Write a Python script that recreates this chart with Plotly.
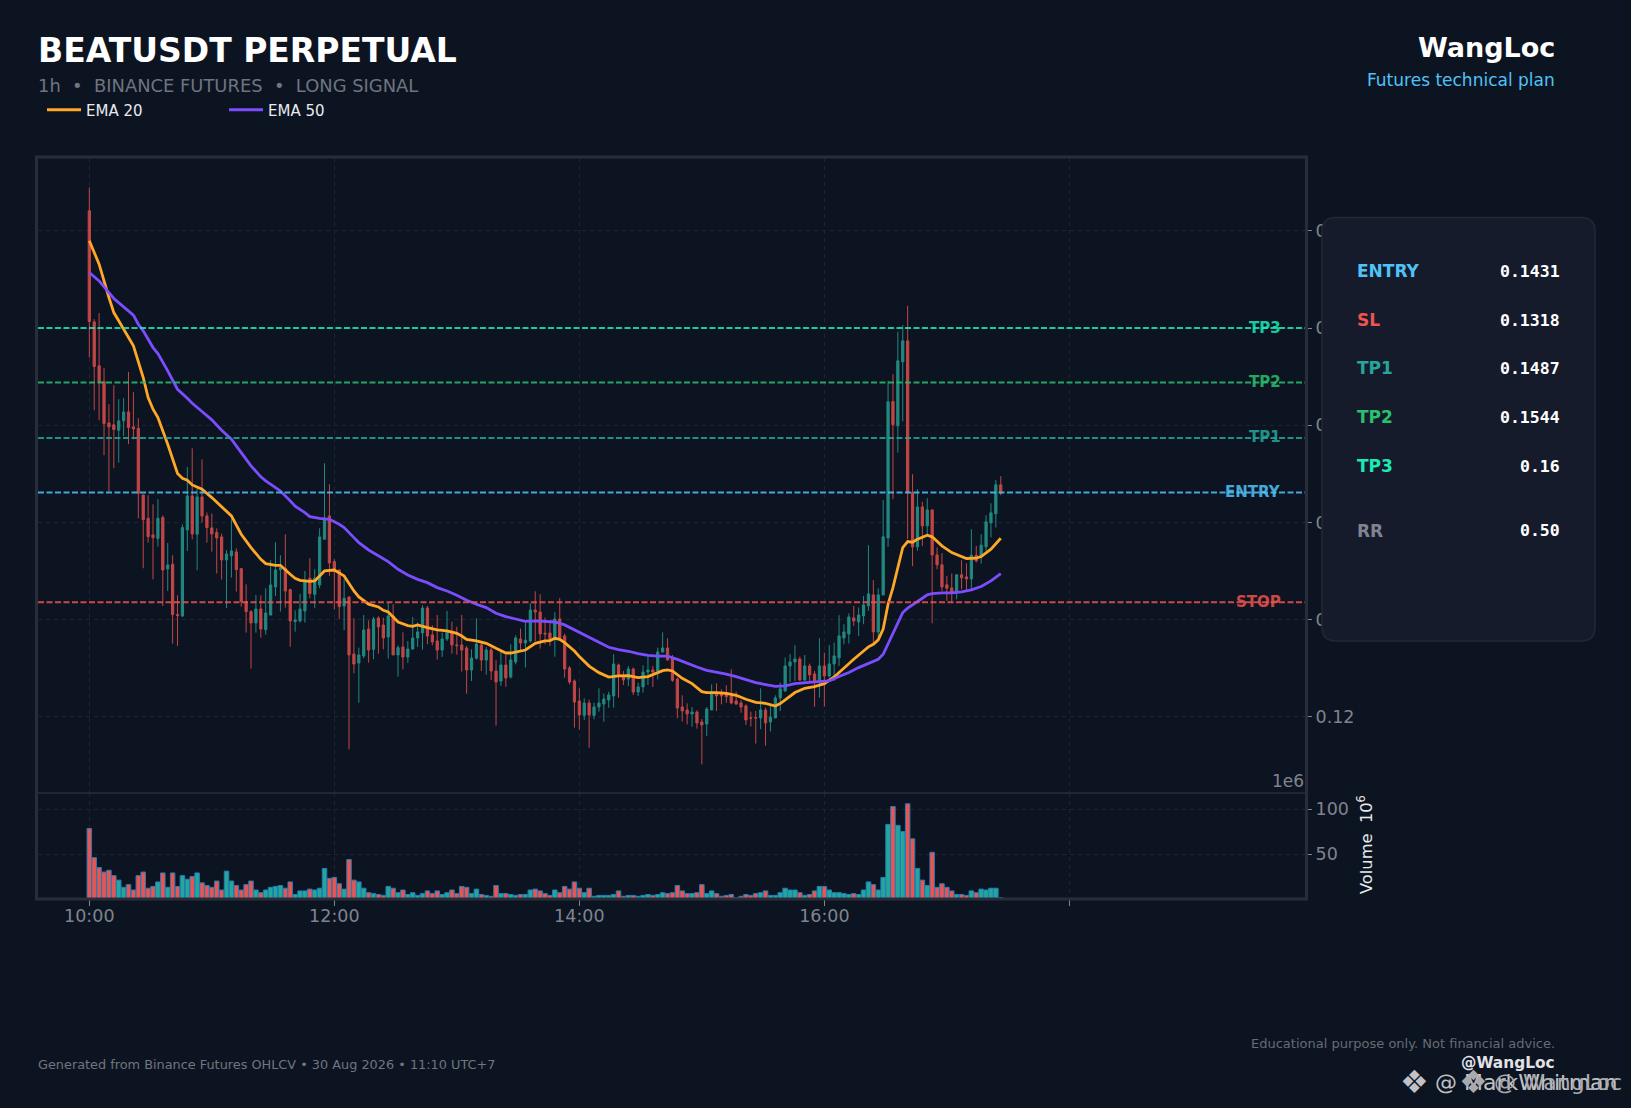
import pandas as pd
import plotly.graph_objects as go

W = 1631
H = 1108

# candle prices, one every 144 s starting at 10:00
opens = [
    .17207, .16064, .15612, .15450, .15025, .15005, .14950, .15046, .15138, .14984,
    .14970, .14284, .14044, .13873, .13835, .14051, .13523, .13571, .13053, .13039,
    .13924, .14274, .13880, .14264, .14068, .13945, .13897, .13852, .13615, .13657,
    .13698, .13526, .13187, .13084, .12967, .13111, .12899, .13049, .13338, .13516,
    .13530, .13310, .12981, .12988, .13091, .13427, .13262, .13358, .13828, .14068,
    .13598, .13512, .13142, .13235, .12648, .12555, .12628, .12905, .12696, .13019,
    .12946, .12823, .13039, .12638, .12720, .12617, .12699, .12813, .12864, .13121,
    .12844, .12782, .12689, .12802, .12875, .12741, .12741, .12709, .12483, .12604,
    .12741, .12586, .12689, .12473, .12370, .12535, .12412, .12566, .12802, .12761,
    .12782, .13100, .13080, .12861, .12864, .12813, .13008, .12833, .12504, .12370,
    .12165, .12017, .12144, .12017, .12103, .12134, .12175, .12216, .12535, .12415,
    .12391, .12494, .12257, .12309, .12463, .12484, .12473, .12669, .12710, .12607,
    .12391, .12103, .12072, .12031, .12051, .11948, .11928, .12072, .12257, .12247,
    .12233, .12216, .12165, .12144, .12114, .11990, .11994, .11990, .12072, .11949,
    .11990, .12196, .12268, .12525, .12566, .12597, .12381, .12525, .12443, .12371,
    .12525, .12422, .12546, .12608, .12813, .12854, .13019, .12978, .13040, .13143,
    .13256, .12875, .13256, .13842, .15245, .14995, .15653, .15869, .14309, .13750,
    .14161, .13966, .14130, .13667, .13565, .13359, .13328, .13287, .13462, .13441,
    .13420, .13664, .13647, .13750, .13997, .14090, .14388,
]
highs = [
    .17447, .16092, .16154, .15588, .15217, .15413, .15269, .15279, .15550, .15341,
    .15073, .14284, .14281, .14188, .14240, .14075, .13790, .13663, .13252, .13982,
    .14572, .14764, .14353, .14651, .14102, .14092, .13941, .13886, .13715, .14034,
    .13735, .13530, .13365, .13097, .13255, .13252, .13324, .13612, .13797, .13664,
    .13879, .13320, .13097, .13266, .13502, .13633, .13519, .13941, .14610, .14394,
    .13622, .13519, .13416, .13235, .13015, .12713, .13049, .12995, .13029, .13036,
    .13022, .13176, .13159, .12737, .12871, .12782, .13029, .12971, .13149, .13142,
    .12943, .13049, .12868, .13091, .12981, .12929, .13049, .12730, .12696, .13015,
    .12765, .12720, .12713, .12583, .12696, .12638, .12748, .12840, .12909, .12971,
    .13169, .13293, .13262, .13022, .12995, .13077, .13224, .12857, .12524, .12387,
    .12295, .12192, .12178, .12147, .12295, .12240, .12260, .12645, .12549, .12473,
    .12524, .12508, .12353, .12532, .12621, .12524, .12713, .12871, .12809, .12638,
    .12405, .12223, .12140, .12103, .12068, .11979, .12103, .12336, .12346, .12284,
    .12326, .12490, .12260, .12171, .12131, .12055, .12062, .12295, .12096, .12124,
    .12223, .12354, .12611, .12645, .12738, .12621, .12638, .12549, .12474, .12810,
    .12662, .12741, .12765, .13047, .12954, .13064, .13143, .13126, .13246, .13767,
    .13407, .13324, .14230, .15458, .15526, .15962, .16031, .16230, .14497, .14343,
    .14213, .14250, .14137, .13743, .13685, .13451, .13475, .13469, .13613, .13582,
    .13932, .13760, .13880, .14076, .14199, .14439, .14477,
]
lows = [
    .15697, .15155, .15053, .14692, .14319, .14559, .14617, .14891, .14806, .14857,
    .14044, .13530, .13794, .13416, .13753, .13142, .13296, .12754, .12730, .13029,
    .13708, .13828, .13509, .14000, .13794, .13701, .13475, .13413, .13121, .13434,
    .13290, .13135, .12868, .12497, .12868, .12816, .12847, .13046, .13245, .13084,
    .13125, .12724, .12878, .12971, .12971, .13221, .13118, .13324, .13828, .13451,
    .13108, .13005, .12892, .11667, .12449, .12147, .12604, .12559, .12593, .12652,
    .12696, .12600, .12638, .12415, .12490, .12556, .12696, .12720, .12693, .12748,
    .12737, .12590, .12617, .12782, .12652, .12641, .12467, .12240, .12370, .12590,
    .12473, .12435, .12380, .11910, .12319, .12312, .12394, .12542, .12679, .12508,
    .12765, .12778, .12703, .12748, .12730, .12621, .12782, .12405, .12336, .11890,
    .11870, .11969, .11684, .11976, .12055, .11952, .12096, .12096, .12199, .12329,
    .12319, .12226, .12216, .12250, .12329, .12309, .12387, .12662, .12583, .12360,
    .11986, .11952, .11924, .11900, .11880, .11513, .11804, .12070, .12062, .12130,
    .12147, .12130, .12123, .12044, .11918, .11901, .11726, .11874, .11705, .11850,
    .11987, .12062, .12260, .12360, .12371, .12371, .12371, .12371, .12107, .12200,
    .12107, .12405, .12371, .12525, .12748, .12755, .12937, .12834, .12954, .13091,
    .12748, .12817, .13250, .13750, .14240, .14720, .15040, .13829, .13551, .13709,
    .13760, .13880, .12964, .13520, .13297, .13194, .13177, .13211, .13314, .13307,
    .13314, .13588, .13578, .13709, .13846, .13949, .14281,
]
closes = [
    .16068, .15605, .15440, .15018, .14984, .14957, .15046, .15138, .14977, .14963,
    .14301, .14030, .13855, .13845, .14044, .13512, .13564, .13053, .13043, .13948,
    .14274, .13883, .14264, .14068, .13948, .13883, .13842, .13615, .13677, .13708,
    .13516, .13187, .13084, .12967, .13111, .12905, .13070, .13358, .13512, .13536,
    .13296, .12988, .12998, .13111, .13399, .13269, .13427, .13852, .14034, .13584,
    .13509, .13135, .13221, .12638, .12545, .12638, .12895, .12689, .13008, .12926,
    .12813, .13039, .12638, .12713, .12617, .12699, .12813, .12875, .13121, .12833,
    .12772, .12689, .12802, .12885, .12741, .12734, .12689, .12483, .12607, .12751,
    .12586, .12689, .12473, .12360, .12535, .12401, .12586, .12813, .12761, .12789,
    .13100, .13080, .12854, .12854, .12796, .13008, .12813, .12494, .12360, .12154,
    .12020, .12144, .12020, .12103, .12144, .12185, .12226, .12545, .12422, .12381,
    .12494, .12257, .12309, .12463, .12484, .12463, .12669, .12710, .12586, .12377,
    .12092, .12062, .12031, .12051, .11938, .11918, .12082, .12257, .12216, .12216,
    .12209, .12144, .12134, .12103, .11970, .11987, .11990, .12072, .11939, .12000,
    .12196, .12289, .12525, .12566, .12597, .12381, .12525, .12433, .12371, .12525,
    .12422, .12546, .12628, .12834, .12875, .13029, .12988, .13050, .13153, .13266,
    .12875, .13256, .13853, .15242, .15005, .15664, .15869, .14309, .13750, .14161,
    .13966, .14130, .13667, .13565, .13338, .13324, .13280, .13462, .13431, .13420,
    .13664, .13606, .13767, .14007, .14100, .14388, .14305,
]

# volume in millions
volumes = [
    78.5, 46, 35, 30, 32, 26, 21, 13, 16, 10, 26, 30, 12, 14, 19, 29, 13, 29, 14, 26,
    22, 25, 29, 18, 15, 13, 20, 10, 31, 20, 15, 10, 16, 20, 10, 7, 10, 13, 14, 15,
    12, 19, 5, 9, 9, 11, 10, 12, 34, 23, 24, 17, 11, 44, 21, 19, 12, 7, 6, 5,
    4, 14, 12, 7, 10, 5, 7, 4, 6, 9, 6, 9, 5, 7, 10, 6, 14, 13, 6, 11,
    5, 4, 3, 15, 6, 6, 5, 4, 5, 5, 10, 11, 9, 6, 4, 10, 7, 14, 11, 19,
    12, 7, 12, 3, 4, 4, 4, 5, 9, 3, 4, 4, 3, 4, 5, 4, 5, 7, 6, 7,
    15, 9, 6, 6, 7, 16, 6, 9, 6, 3, 4, 5, 1.5, 3, 5, 4, 6, 7, 9, 4,
    4, 7, 12, 10, 10, 7, 4, 5, 9, 14, 14, 10, 7, 7, 6, 5, 6, 5, 10, 19,
    16, 10, 24, 83, 103, 82, 75, 106, 67, 34, 21, 15, 52, 13, 17, 13, 9, 5, 5, 4,
    9, 7, 11, 10, 12, 12, 1.5,
]

# ema curves at these candle numbers
ema20_idx = [
    1, 3, 5, 6, 7, 9, 10, 12, 13, 14, 15, 17, 19, 20, 21, 22, 24, 26, 28, 30,
    32, 34, 36, 37, 39, 40, 42, 43, 44, 46, 47, 48, 49, 51, 53, 55, 56, 58, 60, 61,
    62, 64, 66, 67, 68, 70, 72, 74, 76, 77, 78, 80, 82, 84, 86, 87, 89, 90, 92, 94,
    95, 96, 97, 98, 100, 101, 103, 105, 107, 109, 111, 113, 115, 117, 118, 119, 120, 122, 124, 126,
    127, 129, 131, 133, 135, 137, 139, 141, 142, 145, 147, 149, 151, 153, 155, 157, 159, 160, 161, 162,
    163, 164, 165, 166, 167, 168, 169, 170, 171, 172, 173, 175, 177, 179, 180, 182, 183, 185, 187,
]
ema20 = [
    .16898, .16658, .16315, .16160, .16075, .15903, .15817, .15492, .15286, .15166,
    .15080, .14806, .14504, .14456, .14435, .14387, .14343, .14257, .14161, .14068,
    .13880, .13742, .13622, .13578, .13560, .13560, .13468, .13427, .13406, .13396,
    .13399, .13451, .13502, .13512, .13451, .13296, .13235, .13160, .13132, .13097,
    .13080, .12977, .12940, .12933, .12947, .12919, .12895, .12885, .12861, .12833,
    .12799, .12782, .12758, .12706, .12658, .12658, .12679, .12689, .12758, .12782,
    .12785, .12809, .12799, .12765, .12679, .12621, .12524, .12456, .12411, .12422,
    .12425, .12405, .12415, .12456, .12477, .12484, .12473, .12398, .12343, .12260,
    .12250, .12250, .12243, .12223, .12182, .12151, .12140, .12113, .12138, .12251,
    .12295, .12313, .12343, .12412, .12508, .12594, .12679, .12721, .12748, .12793,
    .12903, .13160, .13331, .13554, .13743, .13805, .13798, .13829, .13846, .13870,
    .13853, .13760, .13691, .13647, .13630, .13633, .13650, .13726, .13839,
]
ema50_idx = [
    1, 3, 5, 6, 8, 10, 11, 12, 14, 15, 17, 18, 19, 21, 22, 24, 26, 28, 30, 32,
    34, 36, 37, 39, 40, 42, 43, 45, 46, 48, 50, 52, 53, 55, 56, 58, 60, 62, 64, 66,
    68, 70, 72, 74, 76, 78, 80, 82, 84, 86, 88, 90, 92, 94, 96, 98, 100, 102, 104, 106,
    107, 109, 111, 113, 115, 117, 119, 121, 123, 125, 127, 129, 131, 133, 135, 137, 139, 141, 143, 145,
    149, 152, 154, 156, 158, 160, 162, 163, 164, 165, 166, 167, 168, 169, 170, 171, 172, 173, 175, 177,
    179, 181, 183, 185, 187,
]
ema50 = [
    .16572, .16486, .16366, .16305, .16219, .16133, .16040, .15972, .15800, .15739,
    .15560, .15457, .15371, .15279, .15227, .15142, .15056, .14950, .14857, .14720,
    .14583, .14470, .14428, .14360, .14325, .14223, .14168, .14102, .14061, .14044,
    .14034, .13982, .13948, .13845, .13794, .13718, .13656, .13598, .13519, .13461,
    .13416, .13382, .13331, .13296, .13252, .13200, .13159, .13125, .13067, .13032,
    .13008, .12984, .12988, .12984, .12977, .12947, .12895, .12840, .12789, .12737,
    .12717, .12693, .12676, .12651, .12634, .12627, .12627, .12593, .12552, .12514,
    .12480, .12463, .12441, .12415, .12381, .12353, .12333, .12315, .12319, .12343,
    .12361, .12371, .12416, .12457, .12508, .12549, .12594, .12645, .12748, .12851,
    .12954, .13074, .13119, .13150, .13187, .13221, .13256, .13270, .13276, .13276,
    .13287, .13307, .13342, .13400, .13475,
]

# trade plan levels
level_names = ["TP3", "TP2", "TP1", "ENTRY", "STOP"]
level_values = [0.16, 0.1544, 0.1487, 0.1431, 0.1318]
level_colors = ["#1DE9B6", "#2BBF6F", "#26A69A", "#4FC3F7", "#EF5350"]

table_labels = ["ENTRY", "SL", "TP1", "TP2", "TP3", "RR"]
table_values = ["0.1431", "0.1318", "0.1487", "0.1544", "0.16", "0.50"]
table_colors = ["#4FC3F7", "#EF5350", "#26A69A", "#2BBF6F", "#1DE9B6", "#7F8490"]

price_ticks = [0.12, 0.13, 0.14, 0.15, 0.16, 0.17]
volume_ticks = [50, 100]
time_ticks = ["2026-08-30 10:00", "2026-08-30 12:00", "2026-08-30 14:00", "2026-08-30 16:00", "2026-08-30 18:00"]
time_tick_labels = ["10:00", "12:00", "14:00", "16:00", ""]

BG = "#0D1421"
GRID = "#1F2430"
FRAME = "#282D39"
GREY = "#7F8490"
UP = "#26A69A"
DOWN = "#EF5350"
FONT = "DejaVu Sans"


def fx(px):
    """ pixel column to paper x. """
    return px / W


def fy(px):
    """ pixel row to paper y. """
    return 1 - px / H


def rounded_rect(x0, y0, x1, y1, r):
    """ svg path of a rounded box in paper coordinates, from pixel edges. """
    pts = [
        ("M", x0 + r, y0), ("L", x1 - r, y0), ("Q", x1, y0, x1, y0 + r),
        ("L", x1, y1 - r), ("Q", x1, y1, x1 - r, y1),
        ("L", x0 + r, y1), ("Q", x0, y1, x0, y1 - r),
        ("L", x0, y0 + r), ("Q", x0, y0, x0 + r, y0),
    ]
    parts = []
    for p in pts:
        if p[0] == "Q":
            parts.append(f"Q {fx(p[1])} {fy(p[2])} {fx(p[3])} {fy(p[4])}")
        else:
            parts.append(f"{p[0]} {fx(p[1])} {fy(p[2])}")
    return " ".join(parts) + " Z"


def add_text(fig, x, y, text, size, color, anchor="left", bold=False, family=FONT, angle=0):
    """ put a text on the page at pixel position x, y (vertical centre). """
    fig.add_annotation(
        xref="paper", yref="paper", x=fx(x), y=fy(y), text=f"<b>{text}</b>" if bold else text,
        showarrow=False, xanchor=anchor, yanchor="middle", textangle=angle,
        font=dict(family=family, size=size, color=color), borderpad=0, borderwidth=0,
    )


times = pd.date_range("2026-08-30 10:00", periods=len(opens), freq="144s")
bar_colors = [UP if c >= o else DOWN for o, c in zip(opens, closes)]

fig = go.Figure()

fig.add_trace(go.Candlestick(
    x=times, open=opens, high=highs, low=lows, close=closes,
    increasing=dict(line=dict(color=UP, width=1), fillcolor=UP),
    decreasing=dict(line=dict(color=DOWN, width=1), fillcolor=DOWN),
    whiskerwidth=0, opacity=0.8, showlegend=False, hoverinfo="skip",
))
fig.add_trace(go.Scatter(
    x=times[[i - 1 for i in ema20_idx]], y=ema20, mode="lines", name="EMA 20",
    line=dict(color="#FFA726", width=2.8), hoverinfo="skip",
))
fig.add_trace(go.Scatter(
    x=times[[i - 1 for i in ema50_idx]], y=ema50, mode="lines", name="EMA 50",
    line=dict(color="#7C4DFF", width=2.8), hoverinfo="skip",
))
fig.add_trace(go.Bar(
    x=times, y=volumes, xaxis="x2", yaxis="y2", showlegend=False, hoverinfo="skip",
    marker=dict(color=bar_colors, line=dict(color="#1F7FB8", width=1)),
))

for name, value, color in zip(level_names, level_values, level_colors):
    fig.add_shape(
        type="line", xref="x domain", yref="y", x0=0, x1=1, y0=value, y1=value,
        line=dict(color=color, width=2, dash="6px,2.5px"), opacity=0.85,
    )
    fig.add_annotation(
        xref="paper", yref="y", x=fx(1283), y=value, text=f"<b>{name}</b>", yshift=0.5,
        showarrow=False, xanchor="right", yanchor="middle", opacity=0.85,
        font=dict(family=FONT, size=15, color=color),
    )

# frame of both panes and the divider
fig.add_shape(type="rect", xref="paper", yref="paper", x0=fx(36.5), x1=fx(1306.5), y0=fy(157), y1=fy(899),
              line=dict(color=FRAME, width=3))
fig.add_shape(type="line", xref="paper", yref="paper", x0=fx(38), x1=fx(1306), y0=fy(793), y1=fy(793),
              line=dict(color=FRAME, width=1.5))

# side panel sits over the price labels
fig.add_shape(type="path", xref="paper", yref="paper", path=rounded_rect(1322, 217.5, 1595, 641, 14),
              fillcolor="#151B2B", line=dict(color="#232835", width=1.5), layer="above")

table_rows = [271, 320, 368, 417, 466, 531]
for label, value, color, row in zip(table_labels, table_values, table_colors, table_rows):
    add_text(fig, 1357, row, label, 17, color, bold=True)
    add_text(fig, 1560, row, value, 16.5, "#FFFFFF", anchor="right", bold=True, family="DejaVu Sans Mono")

add_text(fig, 38, 51, "BEATUSDT PERPETUAL", 33, "#FFFFFF", bold=True)
add_text(fig, 38, 86, "1h  •  BINANCE FUTURES  •  LONG SIGNAL", 17.9, "#6F7480")
add_text(fig, 1555, 47, "WangLoc", 27, "#FFFFFF", anchor="right", bold=True)
add_text(fig, 1555, 80, "Futures technical plan", 17, "#4FC3F7", anchor="right")
add_text(fig, 1304, 781, "1e6", 17, GREY, anchor="right")
add_text(fig, 1365, 845, "Volume  10<sup>6</sup>", 16.3, "#E8EAED", anchor="center", angle=-90)
add_text(fig, 38, 1064, "Generated from Binance Futures OHLCV • 30 Aug 2026 • 11:10 UTC+7", 12.85, "#70757F")
add_text(fig, 1555, 1043, "Educational purpose only. Not financial advice.", 13, "#666B76", anchor="right")
add_text(fig, 1555, 1063, "@WangLoc", 15.4, "#E0E2E6", anchor="right", bold=True)
add_text(fig, 1414, 1082, "❖", 32, "#C0C2C6", anchor="center")
add_text(fig, 1435, 1082, "@ MarkWhitman", 22, "#C0C2C6")
add_text(fig, 1473, 1082, "❖", 32, "#A8AAAE", anchor="center")
add_text(fig, 1494, 1082, "@ WangLoc", 22, "#A8AAAE")

fig.update_layout(
    width=W, height=H, margin=dict(l=0, r=0, t=0, b=0),
    paper_bgcolor=BG, plot_bgcolor=BG, font=dict(family=FONT, color=GREY),
    boxgap=0.35, bargap=0.08, hovermode=False,
    legend=dict(
        orientation="h", x=fx(42), y=fy(110), xanchor="left", yanchor="middle",
        bgcolor="rgba(0,0,0,0)", itemwidth=34, entrywidth=133, entrywidthmode="pixels",
        font=dict(family=FONT, size=15, color="#E8EAED"),
    ),
    xaxis=dict(
        domain=[fx(38), fx(1306)], anchor="y", range=["2026-08-30 09:34:52", "2026-08-30 19:55:54"],
        type="date", rangeslider=dict(visible=False), tickvals=time_ticks, ticktext=["" for t in time_ticks],
        ticks="", showgrid=True, gridcolor=GRID, griddash="4px,4px", gridwidth=1, zeroline=False,
    ),
    yaxis=dict(
        domain=[fy(793), fy(158)], anchor="x", side="right", range=[0.11218, 0.1775],
        tickvals=price_ticks, tickformat=".2f", ticks="outside", ticklen=5, tickcolor=GREY,
        tickfont=dict(size=17.5, color=GREY), showgrid=True, gridcolor=GRID, griddash="4px,4px", zeroline=False,
    ),
    xaxis2=dict(
        domain=[fx(38), fx(1306)], anchor="y2", matches="x", type="date",
        tickvals=time_ticks, ticktext=time_tick_labels, ticks="outside", ticklen=6, tickcolor=GREY,
        ticklabelstandoff=-5,
        tickfont=dict(size=17.5, color=GREY), showgrid=True, gridcolor=GRID, griddash="4px,4px", zeroline=False,
    ),
    yaxis2=dict(
        domain=[fy(899), fy(793)], anchor="x2", side="right", range=[0, 118],
        tickvals=volume_ticks, ticks="outside", ticklen=5, tickcolor=GREY,
        tickfont=dict(size=17.5, color=GREY), showgrid=True, gridcolor=GRID, griddash="4px,4px", zeroline=False,
    ),
)

# browser default body margin would push the page off by 8 px
fig.write_html(
    "out.html",
    config={"displayModeBar": False},
    post_script="document.body.style.margin='0';document.body.style.background='#0D1421';",
)
